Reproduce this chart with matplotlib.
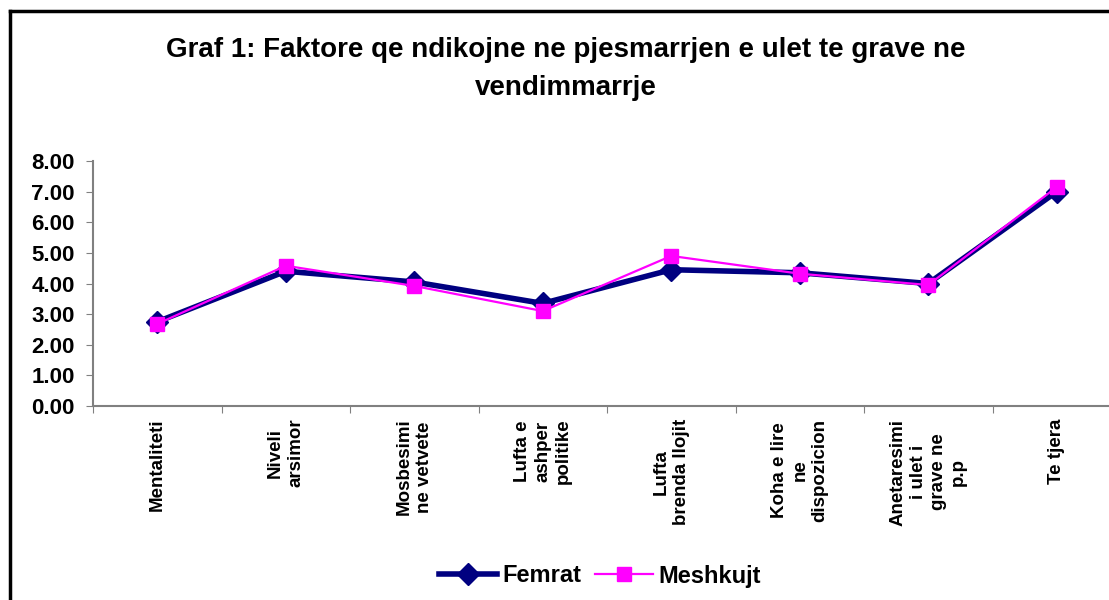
import numpy as np
import matplotlib
matplotlib.use('Agg')
import matplotlib.pyplot as plt
from matplotlib.lines import Line2D

plt.rcParams['font.family'] = ['Liberation Sans', 'DejaVu Sans']

categories = ['Mentaliteti', 'Niveli\narsimor', 'Mosbesimi\nne vetvete',
              'Lufta e\nashper\npolitike', 'Lufta\nbrenda llojit',
              'Koha e lire\nne\ndispozicion', 'Anetaresimi\ni ulet i\ngrave ne\np.p',
              'Te tjera']
femrat = [2.75, 4.40, 4.05, 3.35, 4.45, 4.35, 4.00, 7.00]
meshkujt = [2.68, 4.58, 3.92, 3.10, 4.90, 4.32, 3.95, 7.15]
yticks = [0, 1, 2, 3, 4, 5, 6, 7, 8]

W, H = 1109, 600
fig = plt.figure(figsize=(W / 100, H / 100), dpi=100, facecolor='w')
ax = fig.add_axes([93 / W, 194 / H, (1121 - 93) / W, 245 / H])

x = np.arange(len(categories))
ax.plot(x, femrat, color='#000080', lw=4, marker='D', ms=11, label='Femrat', zorder=3)
ax.plot(x, meshkujt, color='#FF00FF', lw=1.6, marker='s', ms=10, label='Meshkujt', zorder=4)

ax.set_xlim(-0.5, len(categories) - 0.5)
ax.set_ylim(0, 8)
ax.set_yticks(yticks)
ax.set_yticklabels(['%.2f' % v for v in yticks], fontsize=16, fontweight='bold')
ax.set_xticks([-0.5] + list(x + 0.5))
ax.set_xticklabels([])
ax.set_xticks(x, minor=True)
ax.set_xticklabels(categories, minor=True, rotation=90, fontsize=13.5, fontweight='bold',
                   va='top', ha='center', multialignment='center', linespacing=1.25)
ax.tick_params(axis='x', which='minor', length=0, pad=9)
ax.tick_params(axis='x', which='major', length=5, color='#808080', direction='out')
ax.tick_params(axis='y', length=5, color='#808080', direction='out', pad=8)
for s in ['top', 'right']:
    ax.spines[s].set_visible(False)
for s in ['left', 'bottom']:
    ax.spines[s].set_color('#808080')
    ax.spines[s].set_linewidth(1.5)

fig.text(566 / W, 1 - 50 / H, 'Graf 1: Faktore qe ndikojne ne pjesmarrjen e ulet te grave ne',
         ha='center', va='center', fontsize=20, fontweight='bold')
fig.text(566 / W, 1 - 88 / H, 'vendimmarrje', ha='center', va='center',
         fontsize=20, fontweight='bold')

leg = fig.legend(loc='center', bbox_to_anchor=(600 / W, 1 - 576 / H), ncol=2, frameon=False,
                 prop={'weight': 'bold', 'size': 17},
                 handlelength=2.45, columnspacing=0.55, handletextpad=0.25)

# outer frame (top and left edges visible in the cropped original)
fig.add_artist(Line2D([10 / W, 10 / W], [0, 1 - 11 / H], transform=fig.transFigure, color='k', lw=2.5))
fig.add_artist(Line2D([10 / W, 1], [1 - 11 / H, 1 - 11 / H], transform=fig.transFigure, color='k', lw=2.5))

fig.savefig('out.png', dpi=100, facecolor='w')
